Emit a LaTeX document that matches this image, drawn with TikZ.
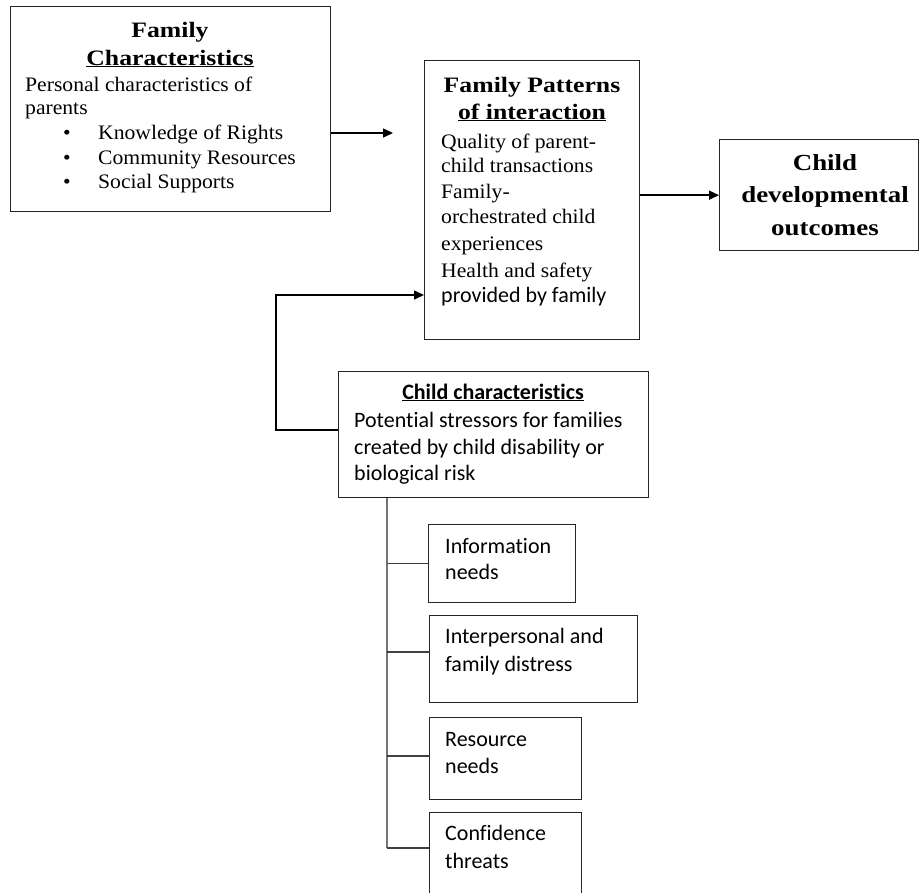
\documentclass[tikz,border=0pt]{standalone}
\usepackage{fontspec}
\setmainfont[FakeStretch=1.05]{Liberation Serif}
\newfontfamily\ttlfont[FakeStretch=1.17]{Liberation Serif}
\newfontfamily\calfont[Ligatures={NoCommon}]{Carlito}
\usetikzlibrary{arrows.meta}
\begin{document}
\begin{tikzpicture}[x=1pt,y=-1pt,
  box/.style={draw=black!85, line width=1.3pt, inner sep=0pt, anchor=north west},
  conn/.style={line width=1.5pt, black},
  arr/.style={conn, -{Triangle[length=10pt,width=9pt]}},
  trunk/.style={line width=1.3pt, black!55},
  branch/.style={line width=1.3pt, black!75},
  ser/.style={font=\fontsize{20.6}{25}\selectfont, inner sep=0pt},
  serb/.style={font=\ttlfont\fontsize{22}{28}\selectfont\bfseries, inner sep=0pt, anchor=base},
  serbig/.style={font=\ttlfont\fontsize{23}{32}\selectfont\bfseries, inner sep=0pt, anchor=base},
  cal/.style={font=\calfont\fontsize{22}{27}\selectfont, inner sep=0pt, anchor=base west},
  calb/.style={font=\calfont\fontsize{22}{27}\selectfont\bfseries, inner sep=0pt, anchor=base},
  txt/.style={ser, anchor=base west},
]
\useasboundingbox[fill=white] (0,0) rectangle (920,892);

% boxes
\node[box, minimum width=320pt, minimum height=205pt] (fc) at (10,6) {};
\node[box, minimum width=215pt, minimum height=279pt] (fp) at (424,60) {};
\node[box, minimum width=199pt, minimum height=111pt] (cd) at (719,139) {};
\node[box, minimum width=310pt, minimum height=126pt] (cc) at (338,371) {};
\node[box, minimum width=147pt, minimum height=78pt] (in) at (428,524) {};
\node[box, minimum width=208pt, minimum height=87pt] (ip) at (429,615) {};
\node[box, minimum width=152pt, minimum height=82pt] (rn) at (429,717) {};
\node[box, minimum width=152pt, minimum height=90pt] (ct) at (429,812) {};

% texts: family characteristics
\node[serb] (fc1) at (170,37) {Family};
\node[serb] (fc2) at (170,65) {\underline{Characteristics}};
\node[txt] (fc3) at (25,91) {Personal characteristics of};
\node[txt] (fc4) at (25,114) {parents};
\node[ser, anchor=base] (b1) at (67,139) {•};
\node[ser, anchor=base] (b2) at (67,164) {•};
\node[ser, anchor=base] (b3) at (67,188) {•};
\node[txt] (fc5) at (98,139) {Knowledge of Rights};
\node[txt] (fc6) at (98,164) {Community Resources};
\node[txt] (fc7) at (98,188) {Social Supports};

% family patterns
\node[serb] (fp1) at (532,92) {Family Patterns};
\node[serb] (fp2) at (532,119) {\underline{of interaction}};
\node[txt] (fp3) at (441,148) {Quality of parent-};
\node[txt] (fp4) at (441,172) {child transactions};
\node[txt] (fp5) at (441,198) {Family-};
\node[txt] (fp6) at (441,223) {orchestrated child};
\node[txt] (fp7) at (441,250) {experiences};
\node[txt] (fp8) at (441,277) {Health and safety};
\node[cal] (fp9) at (441,302) {provided by family};

% outcomes
\node[serbig] (cd1) at (825,170) {Child};
\node[serbig] (cd2) at (825,202) {developmental};
\node[serbig] (cd3) at (825,235) {outcomes};

% child characteristics
\node[calb] (cc1) at (493,399) {\underline{Child characteristics}};
\node[cal] (cc2) at (354,427) {Potential stressors for families};
\node[cal] (cc3) at (354,454) {created by child disability or};
\node[cal] (cc4) at (354,480) {biological risk};

% stressors
\node[cal] (in1) at (445,553) {Information};
\node[cal] (in2) at (445,579) {needs};
\node[cal] (ip1) at (445,643) {Interpersonal and};
\node[cal] (ip2) at (445,671) {family distress};
\node[cal] (rn1) at (445,746) {Resource};
\node[cal] (rn2) at (445,773) {needs};
\node[cal] (ct1) at (445,840) {Confidence};
\node[cal] (ct2) at (445,868) {threats};

% connectors
\coordinate (a1) at (393,133);
\draw[arr] (fc.east |- a1) -- (a1);
\draw[arr] (fp.east |- cd.west) -- (cd.west);
\coordinate (k1) at (276,430);
\coordinate (k2) at (276,295);
\draw[arr] (cc.west |- k1) -- (k1) -- (k2) -- (fp.west |- k2);

% tree
\coordinate (tb) at (387,848);
\coordinate (y2) at (0,652);
\coordinate (y3) at (0,756);
\draw[trunk] (cc.south -| tb) -- (tb);
\draw[branch] (tb |- in.west) -- (in.west);
\draw[branch] (tb |- y2) -- (ip.west |- y2);
\draw[branch] (tb |- y3) -- (rn.west |- y3);
\draw[branch] (tb) -- (ct.west |- tb);
\end{tikzpicture}
\end{document}
